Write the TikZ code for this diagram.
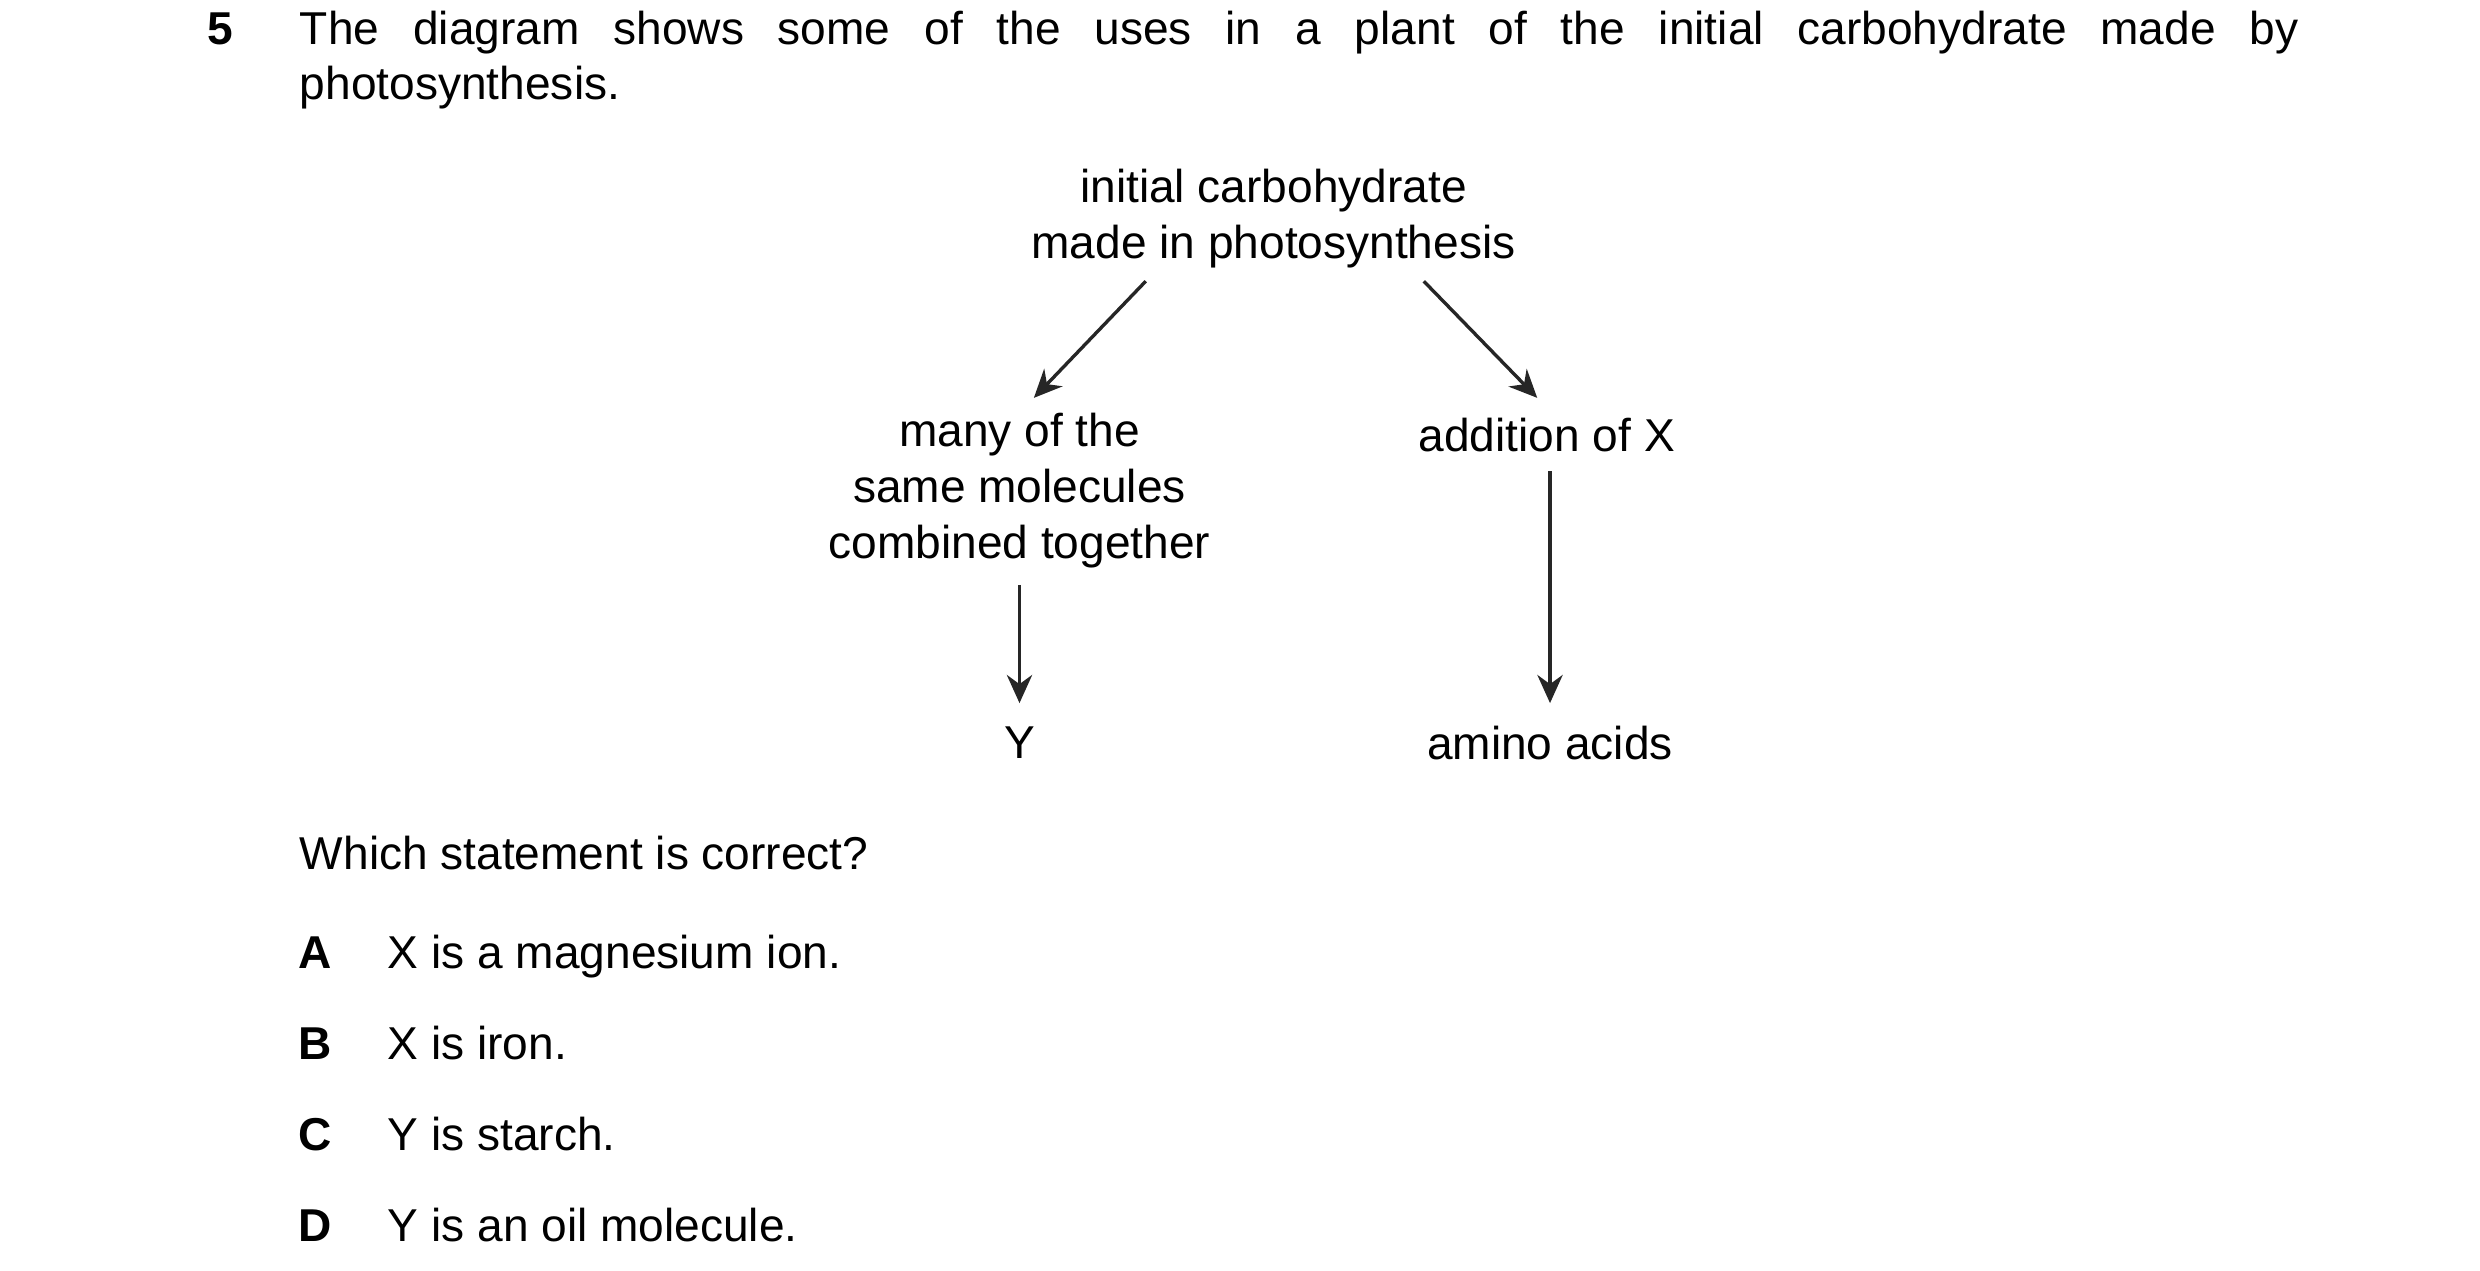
\documentclass[tikz,border=0pt]{standalone}
\usepackage{fontspec}
\setmainfont{Liberation Sans}
\usetikzlibrary{arrows.meta}
\begin{document}
\begin{tikzpicture}[x=0.01cm,y=-0.01cm,
  every node/.style={font=\fontsize{8.2pt}{10pt}\selectfont,inner sep=0pt},
  lbl/.style={align=center},
  arr/.style={-{Stealth[length=5pt,width=4.5pt]},line width=0.6pt,black!85}]
\useasboundingbox (0,0) rectangle (1552,795);
\node[anchor=base,font=\fontsize{8.2pt}{10pt}\selectfont\bfseries] (num) at (138,28) {5};
\node[anchor=north west] (q) at (187,6) {\parbox[t]{12.5cm}{\fontsize{8.2pt}{9.9pt}\selectfont The diagram shows some of the uses in a plant of the initial carbohydrate made by\linebreak photosynthesis.}};
\node[lbl] (top) at (797,137) {initial carbohydrate\\made in photosynthesis};
\node[lbl] (left) at (638,307) {many of the\\same molecules\\combined together};
\node[lbl] (right) at (968,272) {addition of X};
\node (Y) at (638,465) {Y};
\node (amino) at (970,465) {amino acids};
\coordinate (a1) at (717,176); \coordinate (a2) at (647,249);
\coordinate (b1) at (891,176); \coordinate (b2) at (962,249);
\coordinate (c1) at (638,366); \coordinate (c2) at (638,440);
\coordinate (d1) at (970,295); \coordinate (d2) at (970,440);
\draw[arr] (a1) -- (a2);
\draw[arr] (b1) -- (b2);
\draw[arr] (c1) -- (c2);
\draw[arr] (d1) -- (d2);
\node[anchor=base west] (which) at (187,544) {Which statement is correct?};
\foreach \l/\t/\yy in {A/X is a magnesium ion./606, B/X is iron./663, C/Y is starch./720, D/Y is an oil molecule./777}{
  \node[anchor=base,font=\fontsize{8.2pt}{10pt}\selectfont\bfseries] (l\l) at (197,\yy) {\l};
  \node[anchor=base west] (t\l) at (242,\yy) {\t};
}
\end{tikzpicture}
\end{document}
